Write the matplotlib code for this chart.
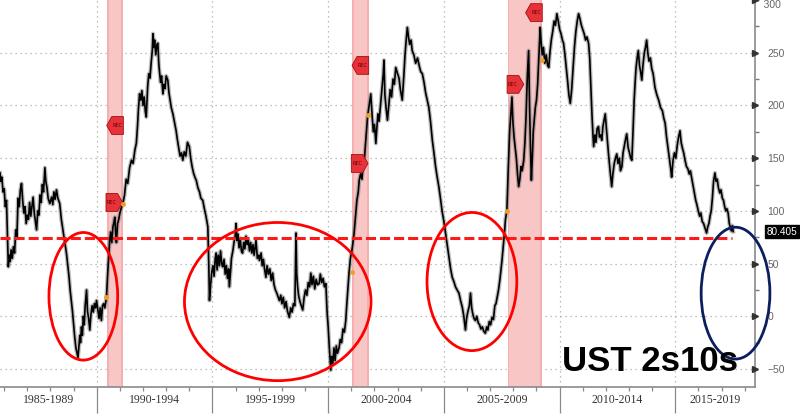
import matplotlib
matplotlib.use('Agg')
import matplotlib.pyplot as plt
from matplotlib.patches import Ellipse, Polygon
from matplotlib.ticker import MultipleLocator, FixedLocator

# 2s10s spread (bp): (decimal year, value)
spread_data = [
    (1985.82, 136), (1985.86, 128), (1985.90, 132), (1985.95, 118), (1986.00, 121),
    (1986.05, 104), (1986.10, 110), (1986.14, 78), (1986.18, 47), (1986.22, 58),
    (1986.26, 52), (1986.30, 63), (1986.35, 55), (1986.40, 66), (1986.45, 60),
    (1986.50, 82), (1986.55, 75), (1986.60, 112), (1986.65, 104), (1986.70, 120),
    (1986.75, 126), (1986.80, 110), (1986.85, 98), (1986.90, 104), (1986.95, 88),
    (1987.00, 96), (1987.05, 92), (1987.10, 108), (1987.15, 95), (1987.20, 104),
    (1987.25, 113), (1987.30, 98), (1987.35, 90), (1987.40, 82), (1987.45, 100),
    (1987.50, 96), (1987.55, 115), (1987.60, 108), (1987.65, 125), (1987.70, 118),
    (1987.76, 141), (1987.80, 128), (1987.85, 122), (1987.90, 112), (1987.97, 107),
    (1988.05, 113), (1988.10, 106), (1988.15, 118), (1988.20, 111), (1988.26, 120),
    (1988.32, 112), (1988.40, 107), (1988.47, 92), (1988.55, 80), (1988.62, 70),
    (1988.69, 60), (1988.75, 48), (1988.80, 38), (1988.85, 25), (1988.90, 15),
    (1988.95, 5), (1989.00, -8), (1989.05, -20), (1989.10, -30), (1989.15, -35),
    (1989.19, -39), (1989.23, -28), (1989.27, -18), (1989.30, -25), (1989.34, -10),
    (1989.38, -18), (1989.42, 0), (1989.46, -8), (1989.50, 10), (1989.56, 25),
    (1989.60, 5), (1989.65, -2), (1989.70, -13), (1989.75, 2), (1989.80, 10),
    (1989.85, 4), (1989.90, 12), (1989.95, 8), (1989.99, 15), (1990.05, 6),
    (1990.10, -2), (1990.15, 8), (1990.20, -4), (1990.25, 10), (1990.30, 12),
    (1990.35, 8), (1990.42, 18), (1990.47, 40), (1990.52, 58), (1990.56, 72),
    (1990.60, 80), (1990.65, 70), (1990.70, 85), (1990.75, 90), (1990.78, 94),
    (1990.82, 78), (1990.85, 70), (1990.90, 88), (1990.95, 92), (1991.00, 98),
    (1991.05, 102), (1991.13, 107), (1991.20, 115), (1991.27, 130), (1991.34, 126),
    (1991.42, 141), (1991.50, 148), (1991.57, 145), (1991.65, 158), (1991.71, 164),
    (1991.76, 180), (1991.80, 196), (1991.85, 211), (1991.90, 205), (1991.95, 214),
    (1992.00, 200), (1992.05, 208), (1992.10, 194), (1992.14, 189), (1992.20, 218),
    (1992.25, 230), (1992.30, 226), (1992.35, 240), (1992.40, 252), (1992.43, 268),
    (1992.47, 255), (1992.50, 262), (1992.55, 248), (1992.60, 258), (1992.64, 259),
    (1992.68, 240), (1992.72, 230), (1992.76, 222), (1992.80, 228), (1992.86, 211),
    (1992.90, 220), (1992.95, 216), (1993.00, 228), (1993.07, 224), (1993.12, 212),
    (1993.17, 205), (1993.22, 198), (1993.29, 192), (1993.35, 185), (1993.43, 176),
    (1993.48, 168), (1993.54, 160), (1993.60, 152), (1993.66, 155), (1993.72, 148),
    (1993.78, 156), (1993.85, 152), (1993.92, 165), (1994.00, 161), (1994.06, 150),
    (1994.12, 142), (1994.18, 136), (1994.24, 132), (1994.30, 129), (1994.37, 122),
    (1994.44, 118), (1994.50, 112), (1994.58, 110), (1994.65, 102), (1994.72, 95),
    (1994.80, 85), (1994.84, 50), (1994.87, 15), (1994.92, 30), (1994.97, 42),
    (1995.02, 48), (1995.07, 38), (1995.12, 55), (1995.16, 60), (1995.20, 44),
    (1995.25, 58), (1995.30, 48), (1995.35, 62), (1995.40, 50), (1995.44, 47),
    (1995.50, 54), (1995.55, 40), (1995.60, 48), (1995.65, 36), (1995.70, 45),
    (1995.73, 28), (1995.78, 42), (1995.82, 55), (1995.88, 62), (1995.93, 70),
    (1995.98, 76), (1996.02, 88), (1996.06, 72), (1996.10, 78), (1996.15, 65),
    (1996.20, 74), (1996.25, 62), (1996.30, 60), (1996.35, 70), (1996.40, 64),
    (1996.45, 76), (1996.50, 68), (1996.55, 72), (1996.60, 62), (1996.65, 70),
    (1996.70, 60), (1996.75, 68), (1996.80, 58), (1996.88, 72), (1996.94, 55),
    (1997.00, 58), (1997.03, 53), (1997.10, 60), (1997.15, 48), (1997.20, 54),
    (1997.25, 45), (1997.31, 37), (1997.36, 48), (1997.42, 40), (1997.48, 45),
    (1997.54, 34), (1997.60, 41), (1997.66, 30), (1997.72, 25), (1997.78, 22),
    (1997.84, 18), (1997.89, 15), (1997.95, 20), (1998.00, 12), (1998.06, 18),
    (1998.12, 8), (1998.18, 14), (1998.24, 5), (1998.32, -1), (1998.38, 8),
    (1998.44, 4), (1998.50, 12), (1998.56, 10), (1998.61, 79), (1998.64, 40),
    (1998.68, 28), (1998.72, 20), (1998.78, 14), (1998.84, 10), (1998.90, 6),
    (1998.96, 18), (1999.02, 25), (1999.08, 20), (1999.14, 32), (1999.20, 28),
    (1999.25, 41), (1999.30, 30), (1999.36, 38), (1999.42, 26), (1999.48, 35),
    (1999.54, 30), (1999.61, 31), (1999.66, 40), (1999.72, 32), (1999.78, 36),
    (1999.84, 28), (1999.90, 31), (1999.95, 5), (2000.00, -10), (2000.04, -26),
    (2000.08, -40), (2000.11, -51), (2000.15, -38), (2000.20, -45), (2000.25, -30),
    (2000.30, -42), (2000.35, -28), (2000.40, -35), (2000.47, -30), (2000.52, -22),
    (2000.58, -25), (2000.64, -12), (2000.70, -15), (2000.76, -4), (2000.80, 10),
    (2000.85, 25), (2000.90, 41), (2000.96, 55), (2001.02, 62), (2001.07, 70),
    (2001.12, 79), (2001.18, 95), (2001.24, 110), (2001.30, 118), (2001.34, 129),
    (2001.40, 135), (2001.46, 130), (2001.50, 142), (2001.55, 145), (2001.60, 160),
    (2001.65, 175), (2001.70, 189), (2001.77, 200), (2001.84, 211), (2001.90, 190),
    (2001.95, 175), (2002.00, 182), (2002.06, 164), (2002.10, 178), (2002.15, 192),
    (2002.20, 185), (2002.27, 202), (2002.32, 215), (2002.38, 230), (2002.41, 243),
    (2002.45, 210), (2002.50, 198), (2002.56, 186), (2002.62, 200), (2002.68, 215),
    (2002.74, 208), (2002.80, 225), (2002.86, 220), (2002.92, 236), (2003.00, 230),
    (2003.06, 226), (2003.12, 215), (2003.20, 205), (2003.26, 225), (2003.32, 248),
    (2003.37, 262), (2003.42, 274), (2003.47, 265), (2003.52, 258), (2003.58, 262),
    (2003.63, 252), (2003.70, 248), (2003.78, 240), (2003.86, 245), (2003.95, 236),
    (2004.00, 232), (2004.07, 230), (2004.14, 222), (2004.21, 212), (2004.28, 205),
    (2004.35, 198), (2004.42, 185), (2004.50, 167), (2004.57, 155), (2004.64, 142),
    (2004.71, 132), (2004.78, 123), (2004.85, 112), (2004.92, 100), (2005.00, 90),
    (2005.07, 79), (2005.14, 68), (2005.22, 55), (2005.29, 45), (2005.36, 37),
    (2005.43, 33), (2005.50, 28), (2005.57, 25), (2005.65, 22), (2005.72, 15),
    (2005.80, 8), (2005.86, 0), (2005.93, -13), (2005.98, -2), (2006.04, 5),
    (2006.10, 10), (2006.15, 22), (2006.20, 8), (2006.25, 2), (2006.30, -2),
    (2006.36, -4), (2006.42, 0), (2006.48, -6), (2006.54, -8), (2006.60, -12),
    (2006.66, -10), (2006.72, -14), (2006.79, -16), (2006.85, -10), (2006.90, -13),
    (2006.96, -5), (2007.02, -8), (2007.08, -1), (2007.14, -3), (2007.20, 10),
    (2007.25, 12), (2007.30, 18), (2007.36, 25), (2007.42, 35), (2007.47, 45),
    (2007.51, 53), (2007.56, 65), (2007.62, 80), (2007.66, 92), (2007.72, 100),
    (2007.78, 140), (2007.84, 175), (2007.90, 195), (2007.94, 208), (2007.98, 185),
    (2008.03, 170), (2008.08, 160), (2008.13, 150), (2008.18, 135), (2008.23, 123),
    (2008.28, 130), (2008.33, 142), (2008.38, 138), (2008.45, 148), (2008.50, 165),
    (2008.55, 190), (2008.60, 225), (2008.66, 252), (2008.70, 200), (2008.74, 160),
    (2008.78, 129), (2008.82, 150), (2008.86, 175), (2008.90, 185), (2008.95, 198),
    (2009.00, 205), (2009.05, 220), (2009.10, 245), (2009.16, 274), (2009.20, 260),
    (2009.25, 248), (2009.30, 255), (2009.36, 240), (2009.42, 248), (2009.48, 238),
    (2009.53, 236), (2009.58, 250), (2009.64, 262), (2009.70, 270), (2009.76, 280),
    (2009.82, 276), (2009.88, 287), (2009.94, 280), (2010.00, 272), (2010.06, 268),
    (2010.12, 262), (2010.17, 259), (2010.23, 248), (2010.29, 235), (2010.35, 222),
    (2010.40, 210), (2010.46, 202), (2010.52, 215), (2010.58, 235), (2010.64, 255),
    (2010.70, 270), (2010.76, 280), (2010.82, 287), (2010.88, 282), (2010.94, 276),
    (2011.00, 272), (2011.06, 268), (2011.12, 262), (2011.18, 265), (2011.25, 259),
    (2011.30, 245), (2011.35, 218), (2011.40, 190), (2011.44, 172), (2011.47, 161),
    (2011.52, 172), (2011.57, 165), (2011.62, 178), (2011.68, 180), (2011.72, 170),
    (2011.77, 172), (2011.82, 167), (2011.87, 180), (2011.92, 186), (2011.97, 192),
    (2012.02, 178), (2012.07, 165), (2012.12, 152), (2012.18, 138), (2012.25, 123),
    (2012.30, 135), (2012.36, 145), (2012.41, 150), (2012.47, 154), (2012.52, 145),
    (2012.58, 150), (2012.63, 138), (2012.69, 142), (2012.74, 155), (2012.80, 162),
    (2012.85, 168), (2012.90, 173), (2012.96, 160), (2013.02, 155), (2013.07, 150),
    (2013.12, 148), (2013.17, 175), (2013.22, 205), (2013.26, 221), (2013.30, 235),
    (2013.35, 245), (2013.40, 252), (2013.45, 238), (2013.50, 232), (2013.55, 224),
    (2013.60, 238), (2013.66, 250), (2013.71, 255), (2013.76, 262), (2013.81, 250),
    (2013.86, 242), (2013.92, 245), (2013.98, 235), (2014.04, 230), (2014.12, 217),
    (2014.20, 210), (2014.28, 205), (2014.36, 198), (2014.44, 195), (2014.50, 188),
    (2014.56, 183), (2014.62, 170), (2014.68, 160), (2014.74, 150), (2014.80, 140),
    (2014.84, 132), (2014.90, 148), (2014.96, 155), (2015.02, 150), (2015.08, 162),
    (2015.14, 170), (2015.20, 176), (2015.25, 165), (2015.30, 160), (2015.36, 155),
    (2015.42, 148), (2015.48, 142), (2015.54, 140), (2015.60, 135), (2015.65, 138),
    (2015.70, 132), (2015.76, 125), (2015.82, 118), (2015.88, 110), (2015.94, 105),
    (2015.99, 100), (2016.05, 95), (2016.10, 98), (2016.16, 90), (2016.22, 88),
    (2016.28, 84), (2016.35, 79), (2016.40, 85), (2016.45, 88), (2016.50, 95),
    (2016.55, 100), (2016.60, 112), (2016.65, 128), (2016.71, 136), (2016.76, 128),
    (2016.81, 130), (2016.86, 122), (2016.92, 117), (2016.97, 120), (2017.03, 112),
    (2017.08, 110), (2017.13, 104), (2017.18, 100), (2017.23, 102), (2017.28, 98),
    (2017.33, 88), (2017.38, 84), (2017.42, 81), (2017.46, 86), (2017.50, 80.405),
]
dates = [d for d, v in spread_data]
spread = [v for d, v in spread_data]
last_value = 80.405

recessions = [(1990.45, 1991.12), (2001.03, 2001.75), (2007.75, 2009.25)]

# REC flags: (tip date, value, pointing direction)
rec_flags = [(1990.43, 181, 'left'), (1991.12, 108, 'right'),
             (2001.03, 238, 'left'), (2001.72, 145, 'right'),
             (2008.53, 288, 'left'), (2008.45, 220, 'right')]
rec_dots = [(1990.42, 18), (1991.12, 107), (2001.03, 42),
            (2001.72, 191), (2007.72, 100), (2009.22, 243)]

period_starts = [1985, 1990, 1995, 2000, 2005, 2010, 2015]
period_labels = ['1985-1989', '1990-1994', '1995-1999', '2000-2004',
                 '2005-2009', '2010-2014', '2015-2019']

dashed_level = 74
# hand drawn ellipses: (center date, center value, width yrs, height bp, colour)
ellipses = [(1989.42, 19, 2.97, 121, 'red'),
            (1997.82, 14, 8.06, 150, 'red'),
            (2006.21, 33, 3.88, 131, 'red'),
            (2017.60, 22, 2.97, 125, '#0b1f5e')]

x0, x1 = 1985.82, 2018.45

fig = plt.figure(figsize=(8, 4.17), dpi=100)
ax = fig.add_axes([0.0, 0.072, 0.944, 0.928])

for a, b in recessions:
    ax.axvspan(a, b, color='#f9c6c6', lw=0, zorder=1)
    ax.axvspan(a, a + 0.08, color='#f4b0b0', lw=0, zorder=1)
    ax.axvspan(b - 0.08, b, color='#f4b0b0', lw=0, zorder=1)

for y in range(-50, 300, 50):
    ax.axhline(y, color='#aaaaaa', ls=(0, (1, 3)), lw=0.9, zorder=0)
for x in period_starts[1:]:
    ax.axvline(x, color='#aaaaaa', ls=(0, (1, 3)), lw=0.9, zorder=0)

ax.plot(dates, spread, color='#7a7a7a', lw=3.0, alpha=0.5, zorder=3)
ax.plot(dates, spread, color='black', lw=1.2, zorder=4)

ax.plot([x0, 2017.45], [dashed_level, dashed_level], color='#ff1a1a', lw=2.2,
        ls=(0, (3.3, 1.3)), zorder=5)

# REC flags
fw, fh, ft = 0.72, 17, 0.22
for tx, ty, d in rec_flags:
    if d == 'left':
        pts = [(tx, ty), (tx + ft, ty + fh / 2), (tx + fw, ty + fh / 2),
               (tx + fw, ty - fh / 2), (tx + ft, ty - fh / 2)]
        cx = tx + (fw + ft) / 2
    else:
        pts = [(tx, ty), (tx - ft, ty + fh / 2), (tx - fw, ty + fh / 2),
               (tx - fw, ty - fh / 2), (tx - ft, ty - fh / 2)]
        cx = tx - (fw + ft) / 2
    ax.add_patch(Polygon(pts, closed=True, facecolor='#e8323a',
                         edgecolor='#a01010', lw=0.6, zorder=6))
    ax.text(cx, ty, 'REC', fontsize=3.5, color='#5a0000', ha='center',
            va='center', zorder=7)
ax.plot([d for d, v in rec_dots], [v for d, v in rec_dots], 'o',
        color='#f0a020', ms=2.5, zorder=7)

for cx, cy, w, h, c in ellipses:
    ax.add_patch(Ellipse((cx, cy), w, h, fill=False, edgecolor=c, lw=2.0,
                         zorder=8, clip_on=False))

ax.set_xlim(x0, x1)
ax.set_ylim(-67, 300)

for s in ['left', 'top']:
    ax.spines[s].set_visible(False)
for s in ['right', 'bottom']:
    ax.spines[s].set_color('#8a8a8a')
    ax.spines[s].set_linewidth(1.2)

yt = list(range(-50, 301, 50))
ax.yaxis.tick_right()
ax.yaxis.set_major_locator(FixedLocator(yt[:-1]))
ax.yaxis.set_minor_locator(MultipleLocator(25))
ax.tick_params(axis='y', which='major', length=0, pad=9, labelsize=7.5,
               labelcolor='#666666')
ax.tick_params(axis='y', which='minor', length=3, width=1, color='#777777')
for lab in ax.get_yticklabels():
    lab.set_family('Liberation Sans')
# top label sits at the very edge of the figure
ax.text(1.0, yt[-1], '   ' + str(yt[-1]), transform=ax.get_yaxis_transform(),
        ha='left', va='top', fontsize=7.5, family='Liberation Sans',
        color='#666666')
ax.plot([1.0] * len(yt), yt, marker='>', ls='none', ms=4, color='#333333',
        transform=ax.get_yaxis_transform(), clip_on=False, zorder=9)

ax.xaxis.set_major_locator(FixedLocator(period_starts[1:]))
ax.xaxis.set_minor_locator(MultipleLocator(1))
ax.tick_params(axis='x', which='major', length=19, width=0.9, color='#8a8a8a',
               labelbottom=False)
ax.tick_params(axis='x', which='minor', length=3, width=0.9, color='#8a8a8a')

bounds = [x0] + period_starts[1:] + [x1]
for i, lab in enumerate(period_labels):
    ax.text((bounds[i] + bounds[i + 1]) / 2, -0.034, lab,
            transform=ax.get_xaxis_transform(), ha='center', va='center',
            fontsize=8.5, family='Liberation Serif', color='#333333')

ax.annotate(f'{last_value:.3f}', xy=(1.0, last_value),
            xycoords=('axes fraction', 'data'), xytext=(8, 0),
            textcoords='offset points', ha='left', va='center', fontsize=7.2,
            family='Liberation Sans', color='white',
            bbox=dict(boxstyle='square,pad=0.15', fc='black', ec='black'))

ax.text(0.861, 0.065, 'UST 2s10s', transform=ax.transAxes, ha='center',
        va='center', fontsize=25, fontweight='bold', family='Liberation Sans',
        color='black', zorder=10)

fig.savefig('out.png', dpi=100)
